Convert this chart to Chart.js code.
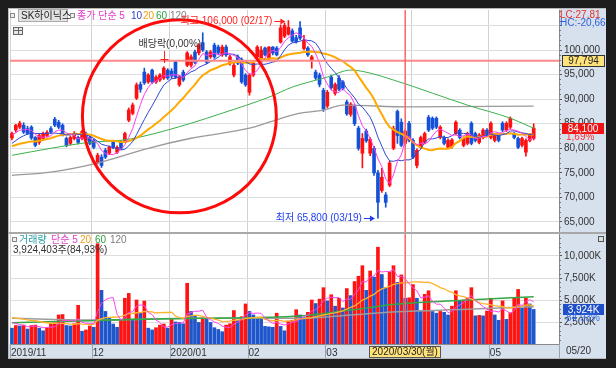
<!DOCTYPE html>
<html><head><meta charset="utf-8">
<script src="https://cdn.jsdelivr.net/npm/chart.js@4.4.1/dist/chart.umd.min.js"></script>
<style>
html,body{margin:0;padding:0;background:#1d1d1d;width:616px;height:368px;overflow:hidden}
#frame{position:absolute;left:8px;top:8px;width:598px;height:351px;background:#fff}
#cp{position:absolute;left:8px;top:8px}
#cv{position:absolute;left:8px;top:233px}
</style></head><body>
<div id="frame"></div>
<canvas id="cp" width="598" height="225"></canvas>
<canvas id="cv" width="598" height="126"></canvas>
<script>
// ---------------- DATA ----------------
const stockName = 'SK하이닉스';
const novDays = [1,4,5,6,7,8,11,12,13,14,15,18,19,20,21,22,25,26,27,28,29];
const decDays = [2,3,4,5,6,9,10,11,12,13,16,17,18,19,20,23,24,26,27,30];
const janDays = [2,3,6,7,8,9,10,13,14,15,16,17,20,21,22,23,28,29,30,31];
const febDays = [3,4,5,6,7,10,11,12,13,14,17,18,19,20,21,24,25,26,27,28];
const marDays = [2,3,4,5,6,9,10,11,12,13,16,17,18,19,20,23,24,25,26,27,30,31];
const aprDays = [1,2,3,6,7,8,9,10,13,14,16,17,20,21,22,23,24,27,28,29];
const mayDays = [4,6,7,8,11,12,13,14,15,18,19,20];
const blankDays = ['2020/05/21','2020/05/22','2020/05/25','2020/05/26','2020/05/27','2020/05/28'];
const monthTickLabels = ['2019/11','12','2020/01','02','03','04','05'];

const opens = [
 82100,83700,84300,84700,84000,84300,82200,81200,82000,82600,84000,85900,85300,84700,82000,81000,82000,82200,82000,83000,82200,
 81600,77100,78200,79600,79000,81200,79200,81200,81600,85700,87100,90200,93000,95500,93500,95900,93500,93900,94300,95900,
 95700,97600,92900,95500,96900,96900,99600,99400,101500,99600,98600,101000,100600,99000,100600,97300,94900,98600,98000,94900,
 91400,94900,98600,98000,100400,98300,100600,100400,101600,102800,103200,103900,102500,104500,100300,100400,98000,95500,94900,91800,
 88600,94500,91200,94300,93500,89400,86900,88500,84100,79000,83500,79000,80000,75000,71400,70500,72500,80000,87500,85300,81000,85100,
 81600,76500,80200,81200,86300,86100,86100,82200,82200,80200,80300,83000,83700,80600,81000,85100,83000,81200,82200,83700,
 82200,81600,82600,85100,83700,84300,83000,82000,80600,79200,81600,82000];
const highs = [
 83300,84900,85500,85200,84500,84600,82400,82900,83300,83600,84400,86300,85700,85000,82300,82500,83400,82500,83700,83300,82500,
 81900,79000,78700,80000,80500,81500,80500,81500,83300,88200,89200,93300,93500,96300,95200,96100,94800,95200,96600,96200,
 96200,97800,94800,95900,99700,99000,100000,101300,103500,99900,99900,101400,101000,101000,101000,98900,97300,99000,98400,95200,
 95200,97600,100900,100700,100600,100700,100700,100700,105100,105500,106000,104300,103000,105800,103000,100700,98900,95900,95300,92200,
 91800,94900,93300,94800,93800,89800,89300,88900,84500,83000,83900,82200,80400,75500,75900,71000,77400,84500,87800,86000,83800,85500,
 82000,79900,82500,83300,86700,86400,86400,84600,82500,81900,82000,85600,84000,82300,83300,85400,83300,83000,84000,84000,
 85400,82900,82900,85400,85400,86400,83300,82300,82300,81900,83000,85000];
const lows = [
 81700,83300,84000,83000,82800,81800,80300,80800,81700,82300,83000,84400,84000,82500,80300,80700,81700,80900,81700,81300,80700,
 79900,76800,76100,77900,78700,79900,78900,79700,81300,85400,86800,89900,91400,93000,93200,93200,93200,93600,94000,94000,
 94200,94200,92600,93600,96600,96500,97200,99000,99700,97200,98300,98300,99100,98700,98700,96900,94500,97000,93200,92600,
 90800,94600,98300,97600,98800,98000,99000,98800,101400,102500,103000,101600,101400,102100,100000,98700,96300,94000,92500,87500,
 88200,92000,90800,91700,91900,86700,86500,84600,79600,76000,81200,78500,74500,65800,71000,68000,72200,79700,81000,80300,80500,81300,
 77900,76000,79900,80900,83400,83800,84000,81900,80700,79900,80000,82700,81900,80300,80700,80700,81300,80900,81900,82400,
 81900,81300,81300,83400,83400,84000,81900,79900,80300,78400,81300,81700];
const closes = [
 83000,84700,85100,83300,83000,82100,80600,82600,83000,83200,83300,84700,84300,82700,80600,82200,83000,81200,83400,81600,81000,
 80200,78600,76500,78200,80200,80200,80200,80000,83000,87800,88800,92900,92000,93300,94900,93500,94500,94900,96300,94300,
 94700,94500,94500,93900,99400,98600,97500,101000,100000,97500,99600,98600,99400,100600,99000,98600,96900,97300,93500,92900,
 94900,97300,100600,100000,99000,100600,99400,99000,104500,105000,104600,101800,101700,102400,102000,99000,98600,94300,93000,88000,
 91400,92300,93000,92000,92200,87000,89000,85000,80000,82000,81500,81800,75000,69000,74100,69000,77000,84000,82600,80600,83500,81600,
 78200,79600,82200,83000,83700,84100,84300,84300,81000,81600,81700,85300,82200,82000,83000,81000,81600,82700,83700,82700,
 85100,82600,81600,83700,85100,86100,82200,80200,82000,81600,82700,84100];
const priorCloses = [79500,79800,80100,79600,79900,80300,79500,79700,79800,79800,79000,79400,79300,79600,79450,82000,82600,82900,82740];

// volume, thousands of shares
const volumes = [
 1800,2100,2050,2150,1700,2100,2150,1800,1500,1850,2300,2400,3300,3350,2100,2050,2300,4400,1450,1600,2050,
 1900,11400,6100,3700,2950,2270,1900,2800,5200,5750,2730,5000,3500,4880,1800,1600,1850,2150,2270,1800,
 2900,2500,2450,2300,6900,3700,3250,2450,2950,2800,2450,1850,1650,1400,2150,2300,3800,2700,3100,4550,
 3700,3300,2950,2900,2000,1950,1900,3500,2000,1500,2600,2700,3900,3300,3000,3600,5000,4600,5100,6400,
 4900,5600,4300,5200,4100,6300,5500,7100,7700,8900,6100,8300,7600,11000,7900,6400,8200,8900,7000,7850,5200,5250,
 6750,5200,3750,5650,6050,3700,3500,3700,3600,3300,4300,6050,4900,5000,5200,6400,3200,3250,3200,3750,
 5200,3300,2700,4900,2800,3550,5200,6200,4050,5200,4550,3924];
const priorVolumes = [3200,3500,2900,3800,3300,2700,3100,3600,3000,3400,2900,3300,3100,2800,3300,2500,2700,2600,2500];

// long moving averages (index -> value)
const ma60Idx  = [0,10,20,28,33,46,54,66,72,81,87,92,98,102,108,117,128,134];
const ma60Val  = [78570,80000,81220,81630,82300,85100,87140,90400,92450,94490,95920,95300,93880,92860,91220,88780,86120,84080];
const ma120Idx = [0,10,23,35,46,61,66,74,80,85,102,134];
const ma120Val = [74490,75160,77200,80000,82040,84080,85300,87140,87760,88780,88430,88570];
const vma60Idx  = [0,20,31,48,74,87,99,117,134];
const vma60Val  = [2420,2650,2800,2920,3180,3860,4540,5000,5370];
const vma120Idx = [0,20,48,74,87,99,117,134];
const vma120Val = [2920,2730,2920,2920,3300,3670,3940,4240];

const priceTicks = [65000,70000,75000,80000,85000,90000,95000,100000,105000];
const volumeTicks = [2500,5000,7500,10000];

const refPrice = 97794;
const crossDate = '2020/03/30';
const crossLabel = '2020/03/30(월)';
const lastDateLabel = '05/20';
const highInfo = {date:'2020/02/17', price:106000, text:'최고 106,000 (02/17)'};
const lowInfo  = {date:'2020/03/19', price:65800,  text:'최저 65,800 (03/19)'};
const divInfo  = {date:'2019/12/27', text:'배당락(0,00%)'};
const circleInfo = {centerIdx:43, centerPrice:86500, rBars:24.9, rPrice:19640};
const lcText = 'LC:27,81', hcText = 'HC:-20,66';
const lastPrice = 84100, lastPctText = '1,69%';
const lastVolume = 3924.403, lastVolText = '3,924K', volPctText = '84,93%';
const volInfoText = '3,924,403주(84,93%)';

// ---------------- BUILD ----------------
const pad2 = d => (d < 10 ? '0' : '') + d;
const labels = [].concat(
  novDays.map(d => '2019/11/' + pad2(d)), decDays.map(d => '2019/12/' + pad2(d)),
  janDays.map(d => '2020/01/' + pad2(d)), febDays.map(d => '2020/02/' + pad2(d)),
  marDays.map(d => '2020/03/' + pad2(d)), aprDays.map(d => '2020/04/' + pad2(d)),
  mayDays.map(d => '2020/05/' + pad2(d)), blankDays);
const N = closes.length;
const monthStart = [];
labels.slice(0, N).forEach((l, i) => { if (i === 0 || l.slice(0, 7) !== labels[i - 1].slice(0, 7)) monthStart.push(i); });
const monthLabelAt = {}; monthStart.forEach((i, k) => monthLabelAt[i] = monthTickLabels[k]);

function sma(all, off, n) {
  const out = [];
  for (let i = 0; i < N; i++) { let s = 0; for (let k = 0; k < n; k++) s += all[off + i - k]; out.push(s / n); }
  return out;
}
function sparse(idx, val) { const a = new Array(N).fill(null); idx.forEach((ix, k) => a[ix] = val[k]); return a; }

const cAll = priorCloses.concat(closes), vAll = priorVolumes.concat(volumes);
const ma5 = sma(cAll, priorCloses.length, 5), ma10 = sma(cAll, priorCloses.length, 10), ma20 = sma(cAll, priorCloses.length, 20);
const vma5 = sma(vAll, priorVolumes.length, 5), vma20 = sma(vAll, priorVolumes.length, 20);

const RED = '#ff1010', BLUE = '#1550d8', VRED = '#ff1414', VBLUE = '#1f56cc';
const candleColors = closes.map((c, i) => c >= opens[i] ? RED : BLUE);
const bodies = closes.map((c, i) => [Math.min(c, opens[i]), Math.max(c, opens[i])]);
const wicks = closes.map((c, i) => [lows[i], highs[i]]);
const volColors = volumes.map((v, i) => v >= vAll[priorVolumes.length + i - 1] ? VRED : VBLUE);

const FN = "'Liberation Sans Narrow','Liberation Sans','Noto Sans CJK KR',sans-serif";
const PANEL = '#d6e1ed';
const fmt = v => Math.round(v).toLocaleString('en-US');
const gridX = ctx => (monthStart.includes(ctx.index) ? '#d2d2d2' : 'rgba(0,0,0,0)');

function txt(ctx, s, x, y, color, size, align) {
  ctx.font = size + 'px ' + FN; ctx.fillStyle = color; ctx.textAlign = align || 'left';
  ctx.textBaseline = 'middle'; ctx.fillText(s, x, y);
}
function boxTxt(ctx, s, x, y, w, h, fill, stroke, color, size) {
  ctx.fillStyle = fill; ctx.fillRect(x, y, w, h);
  if (stroke) { ctx.strokeStyle = stroke; ctx.lineWidth = 1; ctx.strokeRect(x + 0.5, y + 0.5, w - 1, h - 1); }
  txt(ctx, s, x + w / 2, y + h / 2 + 0.5, color, size, 'center');
}
function arrow(ctx, x0, x1, y, color) {
  ctx.strokeStyle = color; ctx.fillStyle = color; ctx.lineWidth = 1;
  ctx.beginPath(); ctx.moveTo(x0, y + 0.5); ctx.lineTo(x1 - 3, y + 0.5); ctx.stroke();
  ctx.beginPath(); ctx.moveTo(x1, y + 0.5); ctx.lineTo(x1 - 5, y - 2.5); ctx.lineTo(x1 - 5, y + 3.5); ctx.closePath(); ctx.fill();
}

const bgPlugin = {
  id: 'bg',
  beforeDraw(chart) {
    const {ctx, chartArea: ca, width: w, height: h} = chart;
    ctx.save();
    ctx.fillStyle = '#fff'; ctx.fillRect(0, 0, w, h);
    ctx.fillStyle = PANEL; ctx.fillRect(ca.right, 0, w - ca.right, h);
    if (chart.canvas.id === 'cv') ctx.fillRect(0, ca.bottom, w, h - ca.bottom);
    ctx.restore();
  }
};

function minorTicks(ctx, Y, ca, from, to, step, major) {
  ctx.strokeStyle = '#777'; ctx.lineWidth = 1;
  for (let v = from; v <= to; v += step) {
    if (v % major === 0) continue;
    const y = Math.round(Y.getPixelForValue(v)) + 0.5;
    if (y < ca.top || y > ca.bottom) continue;
    ctx.beginPath(); ctx.moveTo(ca.right, y); ctx.lineTo(ca.right + 2, y); ctx.stroke();
  }
}

const pricePlugin = {
  id: 'priceOverlay',
  afterDraw(chart) {
    const {ctx, chartArea: ca, width: w, height: h} = chart;
    const X = chart.scales.x, Y = chart.scales.y;
    const cw = X.getPixelForValue(1) - X.getPixelForValue(0);
    ctx.save();
    minorTicks(ctx, Y, ca, 63000, 108000, 1000, 5000);
    // reference line
    const ry = Y.getPixelForValue(refPrice);
    ctx.strokeStyle = '#ff8888'; ctx.lineWidth = 2;
    ctx.beginPath(); ctx.moveTo(ca.left, ry); ctx.lineTo(ca.right, ry); ctx.stroke();
    // crosshair
    const cx = X.getPixelForValue(labels.indexOf(crossDate));
    ctx.strokeStyle = '#ff6464'; ctx.lineWidth = 1.5;
    ctx.beginPath(); ctx.moveTo(cx, ca.top); ctx.lineTo(cx, ca.bottom); ctx.stroke();
    // circle
    const ccx = X.getPixelForValue(circleInfo.centerIdx), ccy = Y.getPixelForValue(circleInfo.centerPrice);
    const rx = circleInfo.rBars * cw, rr = Math.abs(Y.getPixelForValue(circleInfo.centerPrice + circleInfo.rPrice) - ccy);
    ctx.strokeStyle = '#ff0a0a'; ctx.lineWidth = 3;
    ctx.beginPath(); ctx.ellipse(ccx, ccy, rx, rr, 0, 0, Math.PI * 2); ctx.stroke();
    // high / low labels
    const hx = X.getPixelForValue(labels.indexOf(highInfo.date)) - 3, hy = Math.round(Y.getPixelForValue(highInfo.price));
    arrow(ctx, hx - 11, hx, hy, '#ff2020');
    txt(ctx, highInfo.text, hx - 13, hy, '#ff2020', 10, 'right');
    const lx = X.getPixelForValue(labels.indexOf(lowInfo.date)) - 3, ly = Math.round(Y.getPixelForValue(lowInfo.price));
    arrow(ctx, lx - 11, lx, ly, '#1f3cf0');
    txt(ctx, lowInfo.text, lx - 13, ly, '#1f3cf0', 10, 'right');
    // dividend marker
    const dx = Math.round(X.getPixelForValue(labels.indexOf(divInfo.date))) + 0.5;
    txt(ctx, divInfo.text, dx - 26, 36, '#333', 10, 'left');
    ctx.strokeStyle = '#ff2020'; ctx.lineWidth = 1;
    ctx.beginPath(); ctx.moveTo(dx, 43); ctx.lineTo(dx, 55); ctx.moveTo(dx - 4, 51.5); ctx.lineTo(dx + 4, 51.5); ctx.stroke();
    // legend
    ctx.strokeStyle = '#888'; ctx.fillStyle = '#eee';
    ctx.fillRect(2, 5, 5, 5); ctx.strokeRect(2.5, 5.5, 4, 4);
    ctx.fillStyle = '#e3e3e3'; ctx.fillRect(10, 1, 50, 13);
    ctx.strokeStyle = '#aaa'; ctx.strokeRect(10.5, 1.5, 49, 12);
    txt(ctx, stockName, 13, 8, '#222', 10);
    ctx.fillStyle = '#eee'; ctx.fillRect(62, 5, 5, 5); ctx.strokeStyle = '#888'; ctx.strokeRect(62.5, 5.5, 4, 4);
    txt(ctx, '종가 단순 5', 69, 8, '#e03cc8', 10);
    txt(ctx, '10', 123, 8, '#2b3fd0', 10);
    txt(ctx, '20', 135, 8, '#f0a018', 10);
    txt(ctx, '60', 148, 8, '#2aa03c', 10);
    txt(ctx, '120', 162, 8, '#808080', 10);
    ctx.fillStyle = '#e8e8e8'; ctx.fillRect(5, 19, 10, 8); ctx.strokeStyle = '#666'; ctx.strokeRect(5.5, 19.5, 9, 7);
    ctx.beginPath(); ctx.moveTo(6, 22.5); ctx.lineTo(14, 22.5); ctx.moveTo(10.5, 20); ctx.lineTo(10.5, 26); ctx.stroke();
    // right panel texts
    txt(ctx, lcText, ca.right + 1, 7, '#e83030', 10);
    txt(ctx, hcText, ca.right + 1, 15.5, '#2f62dc', 10);
    const by = Math.round(ry);
    boxTxt(ctx, fmt(refPrice), ca.right + 3, by - 6, 43, 12, '#ffe27a', '#333', '#222', 10);
    const py = Math.round(Y.getPixelForValue(lastPrice));
    boxTxt(ctx, fmt(lastPrice), ca.right + 3, py - 5, 42, 11, '#ee1414', null, '#fff', 10);
    txt(ctx, lastPctText, ca.right + 7, py + 9.5, '#ff3030', 10);
    // frame lines
    ctx.fillStyle = '#b8b8b8'; ctx.fillRect(0, 0, w, 1); ctx.fillRect(0, 0, 1, h);
    ctx.fillStyle = '#a8a8a8'; ctx.fillRect(0, h - 1, w, 1);
    ctx.restore();
  }
};

const volPlugin = {
  id: 'volOverlay',
  afterDraw(chart) {
    const {ctx, chartArea: ca, width: w, height: h} = chart;
    const X = chart.scales.x, Y = chart.scales.y;
    const half = (X.getPixelForValue(1) - X.getPixelForValue(0)) / 2;
    ctx.save();
    minorTicks(ctx, Y, ca, 500, 12500, 500, 2500);
    // strip separators
    ctx.strokeStyle = '#98a4b2'; ctx.lineWidth = 1;
    monthStart.forEach(i => {
      const x = Math.round(X.getPixelForValue(i) - half) + 0.5;
      ctx.beginPath(); ctx.moveTo(x, ca.bottom); ctx.lineTo(x, h - 1); ctx.stroke();
    });
    ctx.beginPath(); ctx.moveTo(ca.right + 0.5, ca.bottom); ctx.lineTo(ca.right + 0.5, h); ctx.stroke();
    // crosshair
    const ci = labels.indexOf(crossDate);
    const cx = X.getPixelForValue(ci);
    ctx.strokeStyle = '#ff6464'; ctx.lineWidth = 1.5;
    ctx.beginPath(); ctx.moveTo(cx, ca.top); ctx.lineTo(cx, ca.bottom); ctx.stroke();
    ctx.font = '10px ' + FN;
    const bw = Math.ceil(ctx.measureText(crossLabel).width) + 6;
    boxTxt(ctx, crossLabel, Math.round(cx - bw / 2), ca.bottom + 2, bw, 12, '#ffe27a', '#555', '#222', 10);
    txt(ctx, lastDateLabel, ca.right + 7, ca.bottom + 7.5, '#333', 10);
    // legend
    ctx.fillStyle = '#eee'; ctx.fillRect(4, 4, 5, 5); ctx.strokeStyle = '#888'; ctx.lineWidth = 1; ctx.strokeRect(4.5, 4.5, 4, 4);
    txt(ctx, '거래량', 11, 7, '#2a9ea8', 10);
    txt(ctx, '단순 5', 43, 7, '#e03cc8', 10);
    txt(ctx, '20', 72, 7, '#f0a018', 10);
    txt(ctx, '60', 87, 7, '#2aa03c', 10);
    txt(ctx, '120', 102, 7, '#808080', 10);
    txt(ctx, volInfoText, 5, 17, '#333', 10);
    // right panel
    const vy = Math.round(Y.getPixelForValue(lastVolume));
    boxTxt(ctx, lastVolText, ca.right + 4, vy - 5, 41, 11, '#1f4fc8', null, '#fff', 10);
    txt(ctx, volPctText, ca.right + 7, vy + 9, '#3b6fe6', 10);
    ctx.fillStyle = '#555'; ctx.fillRect(w - 8, 3, 6, 6); ctx.fillStyle = '#ddd'; ctx.fillRect(w - 7, 4, 4, 4);
    // frame lines
    ctx.fillStyle = '#a8a8a8'; ctx.fillRect(0, 0, w, 1);
    ctx.fillStyle = '#b8b8b8'; ctx.fillRect(0, 0, 1, h); ctx.fillRect(0, h - 1, w, 1);
    ctx.restore();
  }
};

Chart.defaults.font.family = FN;
Chart.defaults.font.size = 10;

const lineDs = (label, data, color, width, extra) => Object.assign({
  type: 'line', label, data, borderColor: color, borderWidth: width, pointRadius: 0,
  tension: 0, spanGaps: true, order: 0
}, extra || {});

const commonX = (showLabels) => ({
  type: 'category', offset: true,
  grid: {offset: true, color: gridX, lineWidth: 1, drawTicks: false},
  border: {display: showLabels, color: '#8a8a8a'},
  ticks: showLabels ? {
    autoSkip: false, maxRotation: 0, minRotation: 0, align: 'start', padding: 3, labelOffset: -1,
    color: '#333', font: {size: 10}, callback: (v, i) => monthLabelAt[i] || ''
  } : {display: false},
  afterFit(s) { s.height = showLabels ? 15 : 0; s.paddingLeft = 0; s.paddingRight = 0; }
});

new Chart(document.getElementById('cp'), {
  type: 'bar',
  data: {
    labels,
    datasets: [
      lineDs('MA5', ma5, '#ff3cf0', 1),
      lineDs('MA10', ma10, '#3047d6', 1),
      lineDs('MA20', ma20, '#ffa800', 2),
      lineDs('MA60', sparse(ma60Idx, ma60Val), '#3cb24c', 1, {cubicInterpolationMode: 'monotone'}),
      lineDs('MA120', sparse(ma120Idx, ma120Val), '#9a9a9a', 1.3, {cubicInterpolationMode: 'monotone'}),
      {type: 'bar', label: 'body', data: bodies, backgroundColor: candleColors, barThickness: 3, grouped: false, minBarLength: 1, borderWidth: 0, order: 2},
      {type: 'bar', label: 'wick', data: wicks, backgroundColor: candleColors, barThickness: 1, grouped: false, borderWidth: 0, order: 3}
    ]
  },
  options: {
    responsive: false, animation: false, devicePixelRatio: 1, events: [],
    layout: {padding: {left: 2, top: 2, right: 0, bottom: 1}},
    plugins: {legend: {display: false}, tooltip: {enabled: false}},
    scales: {
      x: commonX(false),
      y: {
        position: 'right', min: 62965, max: 108140, beginAtZero: false,
        afterBuildTicks(s) { s.ticks = priceTicks.map(v => ({value: v})); },
        ticks: {callback: v => (v === 105000 ? '' : fmt(v)), color: '#333', padding: 2, font: {size: 10}},
        grid: {color: '#dddddd', tickColor: '#555', tickLength: 3},
        border: {color: '#8a8a8a'},
        afterFit(s) { s.width = 47; s.paddingTop = 0; s.paddingBottom = 0; }
      }
    }
  },
  plugins: [bgPlugin, pricePlugin]
});

new Chart(document.getElementById('cv'), {
  type: 'bar',
  data: {
    labels,
    datasets: [
      lineDs('VMA5', vma5, '#ff44ee', 1),
      lineDs('VMA20', vma20, '#ffb22c', 1.3),
      lineDs('VMA60', sparse(vma60Idx, vma60Val), '#33a844', 1.6, {cubicInterpolationMode: 'monotone'}),
      lineDs('VMA120', sparse(vma120Idx, vma120Val), '#9c9c9c', 1.5, {cubicInterpolationMode: 'monotone'}),
      {type: 'bar', label: 'volume', data: volumes, backgroundColor: volColors, barThickness: 3, grouped: false, borderWidth: 0, order: 2}
    ]
  },
  options: {
    responsive: false, animation: false, devicePixelRatio: 1, events: [],
    layout: {padding: {left: 2, top: 1, right: 0, bottom: 0}},
    plugins: {legend: {display: false}, tooltip: {enabled: false}},
    scales: {
      x: commonX(true),
      y: {
        position: 'right', min: 0, max: 12500, beginAtZero: true,
        afterBuildTicks(s) { s.ticks = volumeTicks.map(v => ({value: v})); },
        ticks: {callback: v => fmt(v) + 'K', color: '#333', padding: 2, font: {size: 10}},
        grid: {color: '#dddddd', tickColor: '#555', tickLength: 3},
        border: {color: '#8a8a8a'},
        afterFit(s) { s.width = 47; s.paddingTop = 0; s.paddingBottom = 0; }
      }
    }
  },
  plugins: [bgPlugin, volPlugin]
});
</script>
</body></html>
